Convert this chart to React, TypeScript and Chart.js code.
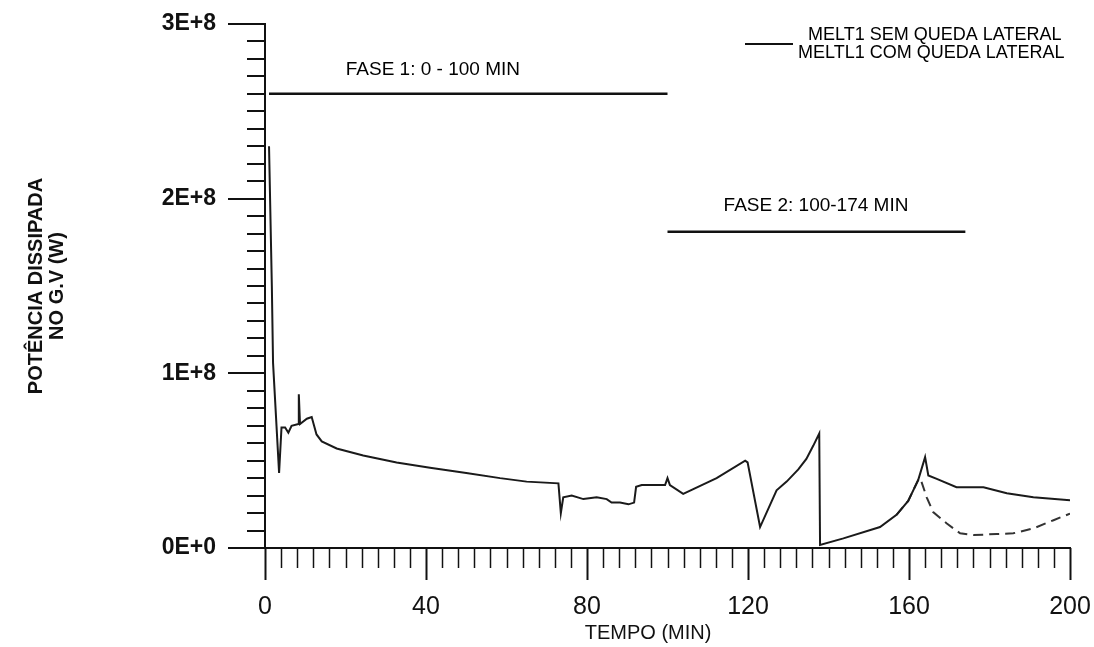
import React, { useEffect, useRef } from 'react';
import { Chart, registerables } from 'chart.js';

Chart.register(...registerables);

// ---- Data (time in minutes, power in W) ----
const melt1Time = [
  1.0, 1.7, 2.0, 3.5, 4.1, 5.0, 5.8, 6.6, 8.3, 8.4, 8.7, 10.4, 11.6, 12.8, 14.1, 17.8,
  24.4, 32.7, 41.0, 50.0, 58.4, 65.0, 72.9, 73.5, 74.1, 76.2, 79.1, 82.4, 84.9, 86.1,
  88.2, 90.3, 91.7, 92.2, 93.6, 97.3, 99.4, 100.0, 100.6, 103.9, 112.2, 119.3, 119.9,
  123.0, 127.1, 129.6, 132.5, 134.5, 136.2, 137.7, 137.9, 143.7, 152.8, 156.9, 159.8,
  162.3, 164.0, 164.8, 166.9, 171.8, 178.5, 184.3, 190.9, 200.0,
];
const melt1Power = [
  2.30e8, 1.50e8, 1.06e8, 0.43e8, 0.69e8, 0.69e8, 0.66e8, 0.70e8, 0.71e8, 0.88e8, 0.71e8,
  0.74e8, 0.75e8, 0.65e8, 0.61e8, 0.57e8, 0.53e8, 0.49e8, 0.46e8, 0.43e8, 0.40e8, 0.38e8,
  0.37e8, 0.20e8, 0.29e8, 0.30e8, 0.28e8, 0.29e8, 0.28e8, 0.26e8, 0.26e8, 0.25e8, 0.26e8,
  0.35e8, 0.36e8, 0.36e8, 0.36e8, 0.40e8, 0.36e8, 0.31e8, 0.40e8, 0.50e8, 0.49e8, 0.12e8,
  0.33e8, 0.38e8, 0.45e8, 0.51e8, 0.585e8, 0.655e8, 0.017e8, 0.055e8, 0.12e8, 0.19e8,
  0.27e8, 0.39e8, 0.52e8, 0.415e8, 0.396e8, 0.348e8, 0.348e8, 0.314e8, 0.291e8, 0.273e8,
];
const meltl1Time = [
  156.9, 159.8, 162.3, 162.8, 164.4, 166.0, 169.4, 172.7, 176.0, 181.8, 185.9, 190.9, 195.9, 200.0,
];
const meltl1Power = [
  0.19e8, 0.27e8, 0.39e8, 0.40e8, 0.29e8, 0.206e8, 0.14e8, 0.084e8, 0.074e8, 0.08e8,
  0.084e8, 0.112e8, 0.159e8, 0.197e8,
];
const phase1Time = [1, 100];
const phase1Level = [2.6e8, 2.6e8];
const phase2Time = [100, 174];
const phase2Level = [1.81e8, 1.81e8];

const phaseLabels = ['FASE 1: 0 - 100 MIN', 'FASE 2: 100-174 MIN'];
const seriesLabels = ['MELT1 SEM QUEDA LATERAL', 'MELTL1 COM QUEDA LATERAL'];
const xTickLabels = ['0', '40', '80', '120', '160', '200'];
const yTickLabels = ['0E+0', '1E+8', '2E+8', '3E+8'];
const xTitle = 'TEMPO (MIN)';
const yTitle = ['POTÊNCIA DISSIPADA', 'NO G.V (W)'];

const toPoints = (xs: number[], ys: number[]) => xs.map((v, i) => ({ x: v, y: ys[i] }));

const FONT = "'Liberation Sans', Arial, Helvetica, sans-serif";

const decorPlugin = {
  id: 'decor',
  afterDraw(chart: any) {
    const { ctx, chartArea, scales } = chart;
    const x = scales.x;
    const y = scales.y;
    ctx.save();
    ctx.strokeStyle = '#111';
    ctx.lineCap = 'butt';
    // y tick marks
    y.ticks.forEach((t: any) => {
      const py = Math.round(y.getPixelForValue(t.value));
      const major = Math.round(t.value / 1e7) % 10 === 0;
      const len = major ? 37 : 18;
      ctx.lineWidth = 2;
      ctx.beginPath();
      ctx.moveTo(chartArea.left - len, py);
      ctx.lineTo(chartArea.left, py);
      ctx.stroke();
    });
    // x tick marks
    x.ticks.forEach((t: any) => {
      const px = Math.round(x.getPixelForValue(t.value)) + 0.5;
      const major = Math.round(t.value) % 40 === 0;
      const len = major ? 32 : 20;
      ctx.lineWidth = major ? 2 : 1.5;
      ctx.beginPath();
      ctx.moveTo(px, chartArea.bottom);
      ctx.lineTo(px, chartArea.bottom + len);
      ctx.stroke();
    });
    // phase annotations
    ctx.fillStyle = '#000';
    ctx.font = `19px ${FONT}`;
    ctx.textAlign = 'center';
    ctx.textBaseline = 'middle';
    ctx.fillText(phaseLabels[0], x.getPixelForValue(41.7), y.getPixelForValue(2.737e8));
    ctx.fillText(phaseLabels[1], x.getPixelForValue(136.9), y.getPixelForValue(1.958e8));
    // legend
    const r = chartArea.right;
    const t = chartArea.top;
    ctx.font = `18px ${FONT}`;
    ctx.lineWidth = 2;
    ctx.beginPath();
    ctx.moveTo(r - 325, t + 20);
    ctx.lineTo(r - 277, t + 20);
    ctx.stroke();
    ctx.textAlign = 'left';
    ctx.fillText(seriesLabels[0], r - 262, t + 11);
    ctx.fillText(seriesLabels[1], r - 272, t + 29);
    ctx.restore();
  },
};

export default function App() {
  const canvasRef = useRef<HTMLCanvasElement | null>(null);

  useEffect(() => {
    if (!canvasRef.current) return;
    const chart = new Chart(canvasRef.current, {
      type: 'line',
      data: {
        datasets: [
          {
            label: seriesLabels[0],
            data: toPoints(melt1Time, melt1Power),
            borderColor: '#1a1a1a',
            borderWidth: 2,
            pointRadius: 0,
            tension: 0,
          },
          {
            label: seriesLabels[1],
            data: toPoints(meltl1Time, meltl1Power),
            borderColor: '#333',
            borderWidth: 2,
            borderDash: [10, 6],
            pointRadius: 0,
            tension: 0,
          },
          {
            label: phaseLabels[0],
            data: toPoints(phase1Time, phase1Level),
            borderColor: '#111',
            borderWidth: 2.5,
            pointRadius: 0,
          },
          {
            label: phaseLabels[1],
            data: toPoints(phase2Time, phase2Level),
            borderColor: '#111',
            borderWidth: 2.5,
            pointRadius: 0,
          },
        ],
      },
      options: {
        animation: false,
        responsive: true,
        maintainAspectRatio: false,
        layout: { padding: { top: 24, right: 24, left: 0, bottom: 0 } },
        plugins: {
          legend: { display: false },
          tooltip: { enabled: false },
        },
        scales: {
          x: {
            type: 'linear',
            min: 0,
            max: 200,
            grid: { display: false, drawTicks: false },
            border: { display: true, color: '#111', width: 2 },
            ticks: {
              stepSize: 4,
              maxTicksLimit: 1000,
              autoSkip: false,
              maxRotation: 0,
              minRotation: 0,
              padding: 44,
              color: '#111',
              font: { family: `'Liberation Sans Narrow', ${FONT}`, size: 25 },
              callback: (v: any) => {
                const n = Math.round(Number(v));
                return n % 40 === 0 ? xTickLabels[n / 40] : '';
              },
            },
            title: {
              display: true,
              text: xTitle + '       ',
              color: '#111',
              font: { family: FONT, size: 20 },
              padding: { top: 0, bottom: 2 },
            },
            afterFit: (s: any) => {
              s.height = 99;
              s.paddingLeft = 0;
              s.paddingRight = 0;
            },
          },
          y: {
            type: 'linear',
            min: 0,
            max: 3e8,
            grid: { display: false, drawTicks: false },
            border: { display: true, color: '#111', width: 2 },
            ticks: {
              stepSize: 1e7,
              maxTicksLimit: 1000,
              autoSkip: false,
              padding: 49,
              color: '#111',
              font: { family: FONT, size: 23, weight: 'bold' },
              callback: (v: any) => {
                const n = Math.round(Number(v) / 1e7);
                return n % 10 === 0 ? yTickLabels[n / 10] : '';
              },
            },
            title: {
              display: true,
              text: yTitle,
              color: '#111',
              font: { family: FONT, size: 20, weight: 'bold', lineHeight: 1.05 },
              padding: { top: 26, bottom: 0 },
            },
            afterFit: (s: any) => {
              s.width = 265;
              s.paddingTop = 0;
              s.paddingBottom = 0;
            },
          },
        },
      },
      plugins: [decorPlugin],
    } as any);
    return () => chart.destroy();
  }, []);

  return (
    <div
      style={{
        position: 'absolute',
        left: 0,
        top: 0,
        width: 1094,
        height: 647,
        background: '#fff',
      }}
    >
      <canvas ref={canvasRef} />
    </div>
  );
}
